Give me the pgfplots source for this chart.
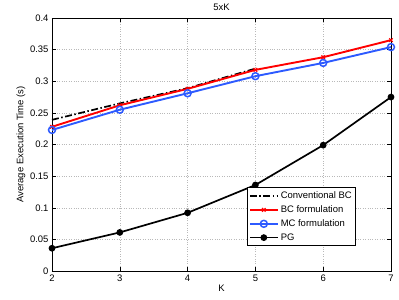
\documentclass[border=0pt]{standalone}
\usepackage{pgfplots}
\pgfplotsset{compat=1.18}
\usepackage{fontspec}
\setmainfont{Liberation Sans}
\begin{document}
\begin{tikzpicture}[font=\fontsize{9.5}{11}\selectfont]
\useasboundingbox (-52bp,-29bp) rectangle (347bp,271bp);
\begin{axis}[
  at={(0,0)}, anchor=south west,
  scale only axis, width=339bp, height=253bp,
  xmin=2, xmax=7, ymin=0, ymax=0.4,
  xtick={2,3,4,5,6,7},
  ytick={0,0.05,0.1,0.15,0.2,0.25,0.3,0.35,0.4},
  yticklabels={0,0.05,0.1,0.15,0.2,0.25,0.3,0.35,0.4},
  /pgf/number format/assume math mode=true,
  tick align=inside, tick pos=both,
  major tick length=4bp,
  grid=major,
  grid style={dotted, gray!55, line width=0.5pt},
  axis line style={black, line width=0.5pt},
  tick style={black, line width=0.5pt},
  title={5xK}, title style={yshift=-2bp},
  xlabel={K}, ylabel={Average Execution Time (s)},
  xlabel style={yshift=3bp},
  ylabel style={yshift=-2bp},
  legend cell align=left,
  legend style={draw=black, line width=0.6pt, fill=white, font=\fontsize{9.5}{10.5}\selectfont, row sep=1.6pt, inner sep=2pt, at={(0.897,0.099)}, anchor=south east},
  legend image code/.code={\draw[mark repeat=2,mark phase=2,#1] plot coordinates {(0bp,0bp) (14bp,0bp) (28bp,0bp)};},
]
\addplot[black, line width=1.7pt, dash pattern=on 7pt off 2.5pt on 1.5pt off 2.5pt] coordinates {
 (2,0.239) (3,0.265) (4,0.289) (5,0.320)
};
\addlegendentry{Conventional BC}
\addplot[red, line width=1.9pt, mark=x, mark size=2.5pt, mark options={solid, line width=1.2pt}] coordinates {
 (2,0.228) (3,0.262) (4,0.288) (5,0.318) (6,0.338) (7,0.365)
};
\addlegendentry{BC formulation}
\addplot[color={rgb,255:red,45;green,90;blue,255}, line width=1.9pt, mark=o, mark size=3.5pt, mark options={solid, line width=1.5pt}] coordinates {
 (2,0.223) (3,0.255) (4,0.281) (5,0.308) (6,0.329) (7,0.354)
};
\addlegendentry{MC formulation}
\addplot[black, line width=1.7pt, mark=*, mark size=2.5pt] coordinates {
 (2,0.036) (3,0.061) (4,0.092) (5,0.136) (6,0.199) (7,0.275)
};
\addlegendentry{PG}
\end{axis}
\end{tikzpicture}
\end{document}
